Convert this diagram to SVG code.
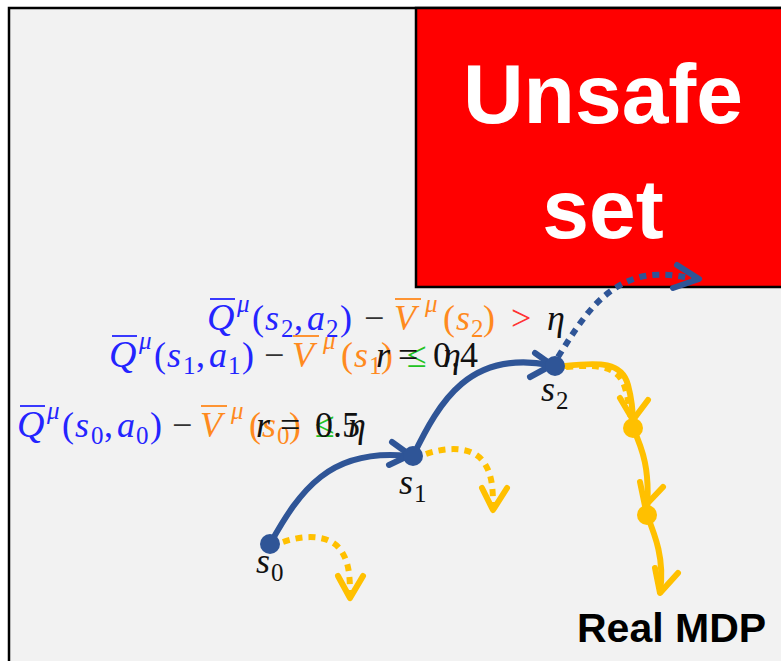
<svg xmlns="http://www.w3.org/2000/svg" width="781" height="661" viewBox="0 0 781 661">
<style>
.m{font-family:"Liberation Serif","DejaVu Serif",serif;font-size:36px}
.i{font-style:italic}
.sup{font-size:25px;font-style:italic}
.sub{font-size:25px}
.blue{fill:#2424ff}
.orange{fill:#ff8a1e}
.blk{fill:#111}
.bar{stroke-width:1.8}
.bl{fill:none;stroke:#2f5597;stroke-width:6;stroke-linecap:round;stroke-linejoin:round}
.bld{fill:none;stroke:#2f5597;stroke-width:6;stroke-dasharray:7 6}
.ye{fill:none;stroke:#ffc000;stroke-width:6;stroke-linecap:round;stroke-linejoin:round}
.yed{fill:none;stroke:#ffc000;stroke-width:6;stroke-dasharray:7 6}
.big{font-family:"Liberation Sans","Open Sans",sans-serif;font-weight:bold;fill:#fff;font-size:84px}
</style>
<rect x="0" y="0" width="781" height="661" fill="#fff"/>
<rect x="9" y="8" width="790" height="670" fill="#f2f2f2" stroke="#000" stroke-width="2.5"/>
<g id="unsafe">
<rect x="416" y="8" width="380" height="279" fill="#ff0000" stroke="#000" stroke-width="2.5"/>
<text class="big" x="603" y="123" text-anchor="middle">Unsafe</text>
<text class="big" x="603" y="238" text-anchor="middle">set</text>
</g>
<g id="connectors">
<path class="bl" d="M270,544 C300,490 330,448 408,456"/>
<polyline class="bl" points="392,442 410,455 389,465"/>
<path class="bl" d="M413,456 C440,400 470,350 550,365"/>
<polyline class="bl" points="535,353 552,365 530,377"/>
<path class="bld" d="M558,357 C580,322 600,288 640,277 C660,272 680,276 695,279"/>
<polyline class="bl" points="677,265 699,279 673,288"/>
<path class="yed" d="M283,542 C300,536 330,532 342,552 C348,562 350,572 350,594"/>
<polyline class="ye" points="338,576 350,598 363,576"/>
<path class="yed" d="M426,454 C443,448 473,444 485,464 C491,474 493,484 493,506"/>
<polyline class="ye" points="482,488 493,510 507,488"/>
<path class="yed" d="M566,367 C599,364 619,366 625,388 C629,402 630,412 631,420"/>
<path class="ye" d="M565,366 C600,362 622,362 628,385 C632,400 633,412 633,424"/>
<polyline class="ye" points="620,398 633,420 648,400"/>
<path class="ye" d="M633,428 C643,450 650,470 647,510"/>
<polyline class="ye" points="640,482 645,506 663,487"/>
<path class="ye" d="M647,515 C655,535 665,560 660,592"/>
<polyline class="ye" points="655,568 660,593 678,573"/>
</g>
<g id="s0">
<circle cx="270" cy="544" r="10" fill="#2f5597"/>
<text class="m i blk" x="256" y="573">s</text><text class="m sub blk" x="271" y="581">0</text>
</g>
<g id="s1">
<circle cx="413" cy="456" r="10" fill="#2f5597"/>
<text class="m i blk" x="399" y="494">s</text><text class="m sub blk" x="414" y="502">1</text>
</g>
<g id="s2">
<circle cx="555" cy="366" r="10" fill="#2f5597"/>
<text class="m i blk" x="541" y="401">s</text><text class="m sub blk" x="556" y="409">2</text>
</g>
<g id="n3"><circle cx="633" cy="428" r="10" fill="#ffc000"/></g>
<g id="n4"><circle cx="647" cy="515" r="10" fill="#ffc000"/></g>
<g id="label-s0">
<line x1="20" y1="406" x2="45" y2="406" stroke="#2424ff" class="bar"/>
<text class="m blue"><tspan class="i" x="17" y="437" font-size="38">Q</tspan><tspan class="sup" x="47" y="419">μ</tspan><tspan x="62" y="437">(</tspan><tspan class="i" x="75" y="437">s</tspan><tspan class="sub" x="91" y="444">0</tspan><tspan x="104" y="437">,</tspan><tspan class="i" x="117" y="437">a</tspan><tspan class="sub" x="136" y="444">0</tspan><tspan x="150" y="437">)</tspan></text>
<text class="m" fill="#333" x="172" y="437">−</text>
<line x1="201" y1="406" x2="227" y2="406" stroke="#ff8a1e" class="bar"/>
<text class="m orange"><tspan class="i" x="200" y="437">V</tspan><tspan class="sup" x="231" y="419">μ</tspan><tspan x="249" y="437">(</tspan><tspan class="i" x="262" y="437">s</tspan><tspan class="sub" x="277" y="444">0</tspan><tspan x="289" y="437">)</tspan></text>
<text class="m" fill="#22c322" x="315" y="437">≤</text>
<text class="m i blk" x="348" y="437">η</text>
<text class="m blk"><tspan class="i" x="256" y="437">r</tspan><tspan x="280" y="437">=</tspan><tspan x="315" y="437">0.5</tspan></text>
</g>
<g id="label-s1">
<g transform="translate(92,-70)">
<line x1="20" y1="406" x2="45" y2="406" stroke="#2424ff" class="bar"/>
<text class="m blue"><tspan class="i" x="17" y="437" font-size="38">Q</tspan><tspan class="sup" x="47" y="419">μ</tspan><tspan x="62" y="437">(</tspan><tspan class="i" x="75" y="437">s</tspan><tspan class="sub" x="91" y="444">1</tspan><tspan x="104" y="437">,</tspan><tspan class="i" x="117" y="437">a</tspan><tspan class="sub" x="136" y="444">1</tspan><tspan x="150" y="437">)</tspan></text>
<text class="m" fill="#333" x="172" y="437">−</text>
<line x1="201" y1="406" x2="227" y2="406" stroke="#ff8a1e" class="bar"/>
<text class="m orange"><tspan class="i" x="200" y="437">V</tspan><tspan class="sup" x="231" y="419">μ</tspan><tspan x="249" y="437">(</tspan><tspan class="i" x="262" y="437">s</tspan><tspan class="sub" x="277" y="444">1</tspan><tspan x="289" y="437">)</tspan></text>
<text class="m" fill="#22c322" x="315" y="437">≤</text>
<text class="m i blk" x="351" y="437">η</text>
</g>
<text class="m blk"><tspan class="i" x="376" y="367">r</tspan><tspan x="398" y="367">=</tspan><tspan x="433" y="367">0.4</tspan></text>
</g>
<g id="label-s2">
<g transform="translate(190,-107)">
<line x1="20" y1="406" x2="45" y2="406" stroke="#2424ff" class="bar"/>
<text class="m blue"><tspan class="i" x="17" y="437" font-size="38">Q</tspan><tspan class="sup" x="47" y="419">μ</tspan><tspan x="62" y="437">(</tspan><tspan class="i" x="75" y="437">s</tspan><tspan class="sub" x="91" y="444">2</tspan><tspan x="104" y="437">,</tspan><tspan class="i" x="117" y="437">a</tspan><tspan class="sub" x="136" y="444">2</tspan><tspan x="150" y="437">)</tspan></text>
<text class="m" fill="#333" x="174" y="437">−</text>
<line x1="205" y1="406" x2="231" y2="406" stroke="#ff8a1e" class="bar"/>
<text class="m orange"><tspan class="i" x="204" y="437">V</tspan><tspan class="sup" x="235" y="419">μ</tspan><tspan x="253" y="437">(</tspan><tspan class="i" x="266" y="437">s</tspan><tspan class="sub" x="281" y="444">2</tspan><tspan x="293" y="437">)</tspan></text>
<text class="m" fill="#ff3333" x="321" y="437">&gt;</text>
<text class="m i blk" x="357" y="437">η</text>
</g>
</g>
<g id="real-mdp">
<text x="577" y="642" font-family="Liberation Sans, Arial, sans-serif" font-weight="bold" font-size="41" fill="#000">Real MDP</text>
</g>
</svg>
